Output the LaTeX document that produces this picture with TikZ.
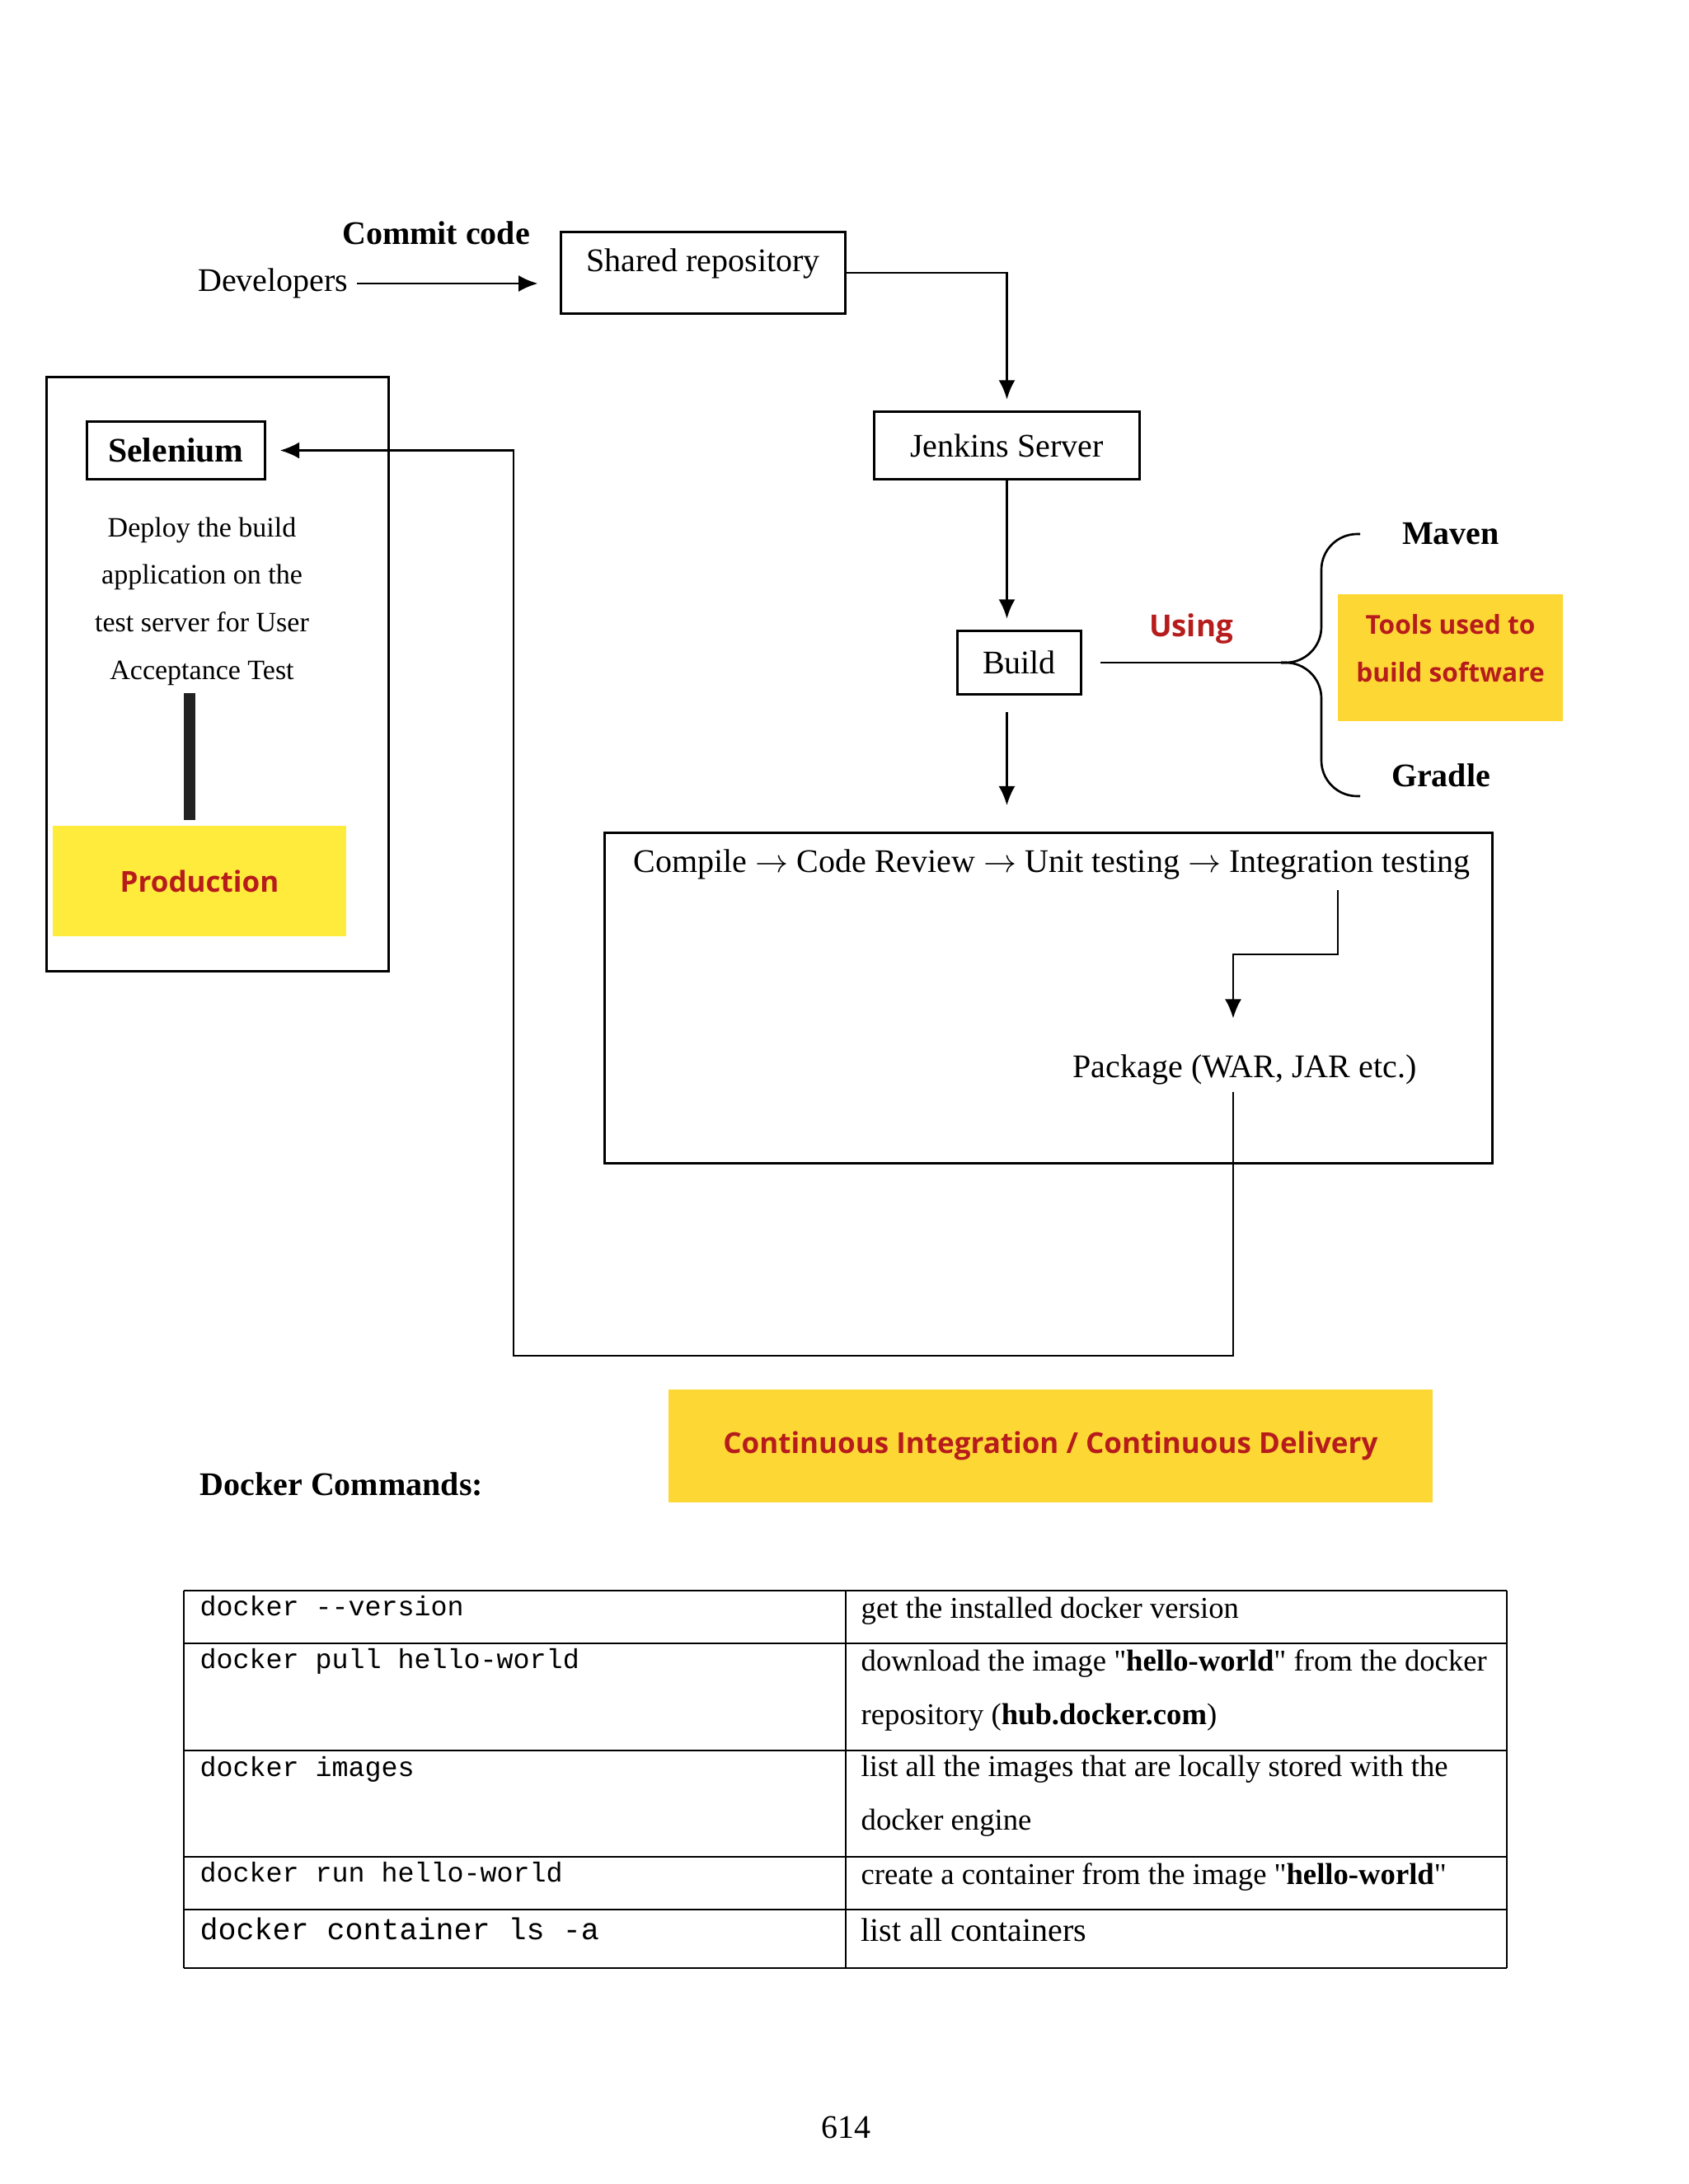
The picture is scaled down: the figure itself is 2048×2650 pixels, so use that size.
\documentclass[tikz,border=0pt]{standalone}
\usepackage{fontspec}
\setmainfont{Liberation Serif}[Ligatures=TeXOff]
\setmonofont{Liberation Mono}
\newfontfamily\osans{Open Sans}
\usepackage{xcolor}
\usetikzlibrary{arrows.meta, positioning, calc}
\definecolor{ciyellow}{RGB}{253,216,53}
\definecolor{prodyellow}{RGB}{255,235,59}
\definecolor{tagred}{RGB}{183,28,28}
\definecolor{barblack}{RGB}{34,34,34}

\begin{document}
\begin{tikzpicture}[x=0.0041494in, y=-0.0041494in,
  box/.style={draw, line width=0.9pt, inner sep=0pt, font=\fontsize{12}{14}\selectfont},
  txt/.style={inner sep=0pt, font=\fontsize{12}{14}\selectfont},
  bold/.style={inner sep=0pt, font=\fontsize{12}{14}\selectfont\bfseries},
  tag/.style={inner sep=0pt, text=tagred, font=\osans\bfseries\fontsize{11}{14}\selectfont},
  cmd/.style={anchor=base west, inner sep=0pt, font=\ttfamily\fontsize{10}{12}\selectfont},
  info/.style={anchor=base west, inner sep=0pt, align=left, font=\fontsize{11}{19.4}\selectfont},
  arrow/.style={-{Latex[length=7pt,width=6pt]}, line width=0.8pt},
  link/.style={line width=0.8pt}]
\useasboundingbox (0,0) rectangle (2048,2650);

% commit
\node[txt, anchor=east] (dev) at (423,344) {Developers};
\node[bold] (commit) at (529,283) {Commit code};
\node[box, minimum width=103.4pt, minimum height=29.9pt, text depth=9pt] (repo) at (853,331) {Shared repository};
\draw[arrow, shorten <=3pt, shorten >=8pt] (dev.east) -- (dev.east -| repo.west);

% jenkins and build
\node[box, minimum width=96.5pt, minimum height=24.8pt] (jenkins) at (1221.5,540.5) {Jenkins Server};
\node[box, minimum width=45.1pt, minimum height=23.3pt] (build) at (1236.5,804) {Build};
\draw[arrow, shorten >=3.9pt] (repo.east) -| (jenkins.north);
\draw[arrow, shorten >=3.9pt] (jenkins.south) -- (jenkins.south |- build.north);

% build tools
\node[tag] (using) at (1445,763) {Using};
\node[bold] (maven) at (1760,648) {Maven};
\node[bold] (gradle) at (1748,941) {Gradle};
\node[fill=ciyellow, minimum width=81.6pt, minimum height=46pt] (tools) at (1759.5,798) {};
\node[tag, align=center, font=\osans\bfseries\fontsize{9.5}{17.6}\selectfont] (toolstext) at (1759.5,786.5) {Tools used to\\build software};
\coordinate (brace) at (1554,804);
\draw[link, shorten <=6.6pt] (build.east) -- (brace);
\draw[link, rounded corners=13pt] (1650,648) -| (1603,804) -- (brace);
\draw[link, rounded corners=13pt] (1650,966) -| (1603,804) -- (brace);

% stages
\node[box, minimum width=323.3pt, minimum height=120.1pt] (stages) at (1272,1211) {};
\draw[arrow, shorten <=6pt, shorten >=9.6pt] (build.south -| jenkins.south) -- (jenkins.south |- stages.north);
\node[txt] (flow) at (1276,1049) {Compile $\rightarrow$ Code Review $\rightarrow$ Unit testing $\rightarrow$ Integration testing};
\node[txt] (pkg) at (1510,1298) {Package (WAR, JAR etc.)};
\coordinate (integ) at (1623,1080);
\draw[arrow, shorten >=13pt] (integ) -- ++(0,78) -| ([xshift=-4.2pt]pkg.north);

% selenium
\draw[line width=0.9pt] (56,457) rectangle (471,1178);
\node[box, minimum width=64.8pt, minimum height=21.2pt, font=\fontsize{12.5}{15}\selectfont\bfseries] (sel) at (213.5,546.5) {Selenium};
\node[inner sep=0pt, align=center, font=\fontsize{10.2}{17.3}\selectfont] (desc) at (245,729.5)
  {Deploy the build\\application on the\\test server for User\\Acceptance Test};
\node[fill=prodyellow, minimum width=107pt, minimum height=40pt, tag, font=\osans\bfseries\fontsize{10.5}{13}\selectfont] (prod) at (242,1069) {Production};
\draw[line width=4.2pt, barblack] ($(prod.north)+(-12,-7)$) -- ($(prod.north)+(-12,-161)$);

% back to selenium
\coordinate (loop) at (623,1645);
\draw[arrow, shorten <=2.4pt, shorten >=5pt] ([xshift=-4.2pt]pkg.south) |- (loop) |- (sel.east);

% ci/cd
\node[fill=ciyellow, minimum width=278.1pt, minimum height=40.9pt, tag, font=\osans\bfseries\fontsize{10.5}{13}\selectfont] (cicd) at (1274.5,1754.5) {Continuous Integration / Continuous Delivery};
\node[bold, anchor=west] (docker) at (242,1801) {Docker Commands:};

% table
\foreach \y in {1930,1994,2124,2253,2317,2388}
  \draw[line width=0.8pt] (223,\y) -- (1828,\y);
\foreach \x in {223,1026,1828}
  \draw[line width=0.8pt] (\x,1930) -- (\x,2388);
\node[cmd] (cmd1) at (242,1960) {docker -{}-version};
\node[cmd] (cmd2) at (242,2024) {docker pull hello-world};
\node[cmd] (cmd3) at (242,2155) {docker images};
\node[cmd] (cmd4) at (242,2283) {docker run hello-world};
\node[cmd, font=\ttfamily\fontsize{11}{13}\selectfont] (cmd5) at (242,2353) {docker container ls -a};
\node[info] (info1) at (1044,1963) {get the installed docker version};
\node[info] (info2) at (1044,2092) {download the image "\textbf{hello-world}" from the docker\\repository (\textbf{hub.docker.com})};
\node[info] (info3) at (1044,2220) {list all the images that are locally stored with the\\docker engine};
\node[info] (info4) at (1044,2286) {create a container from the image "\textbf{hello-world}"};
\node[info, font=\fontsize{12}{15}\selectfont] (info5) at (1044,2355) {list all containers};

\node[txt] (page) at (1026,2581) {614};
\end{tikzpicture}
\end{document}
